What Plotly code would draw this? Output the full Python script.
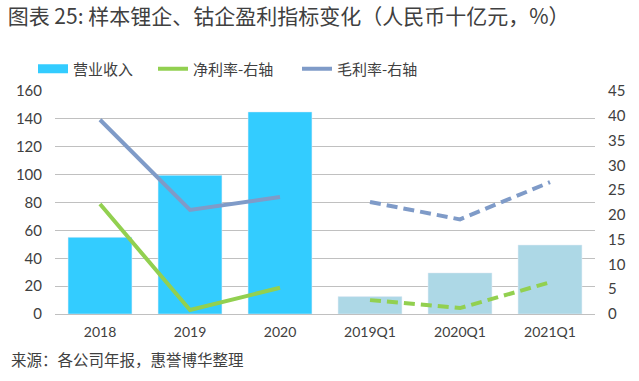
import plotly.graph_objects as go

categories = ["2018", "2019", "2020", "2019Q1", "2020Q1", "2021Q1"]
annual = ["2018", "2019", "2020"]
quarterly = ["2019Q1", "2020Q1", "2021Q1"]
revenue_annual = [55, 99.5, 145]
revenue_quarter = [12.5, 29.5, 49.5]
net_margin_annual = [22.2, 0.8, 5.3]
net_margin_quarter = [2.8, 1.2, 6.4]
gross_margin_annual = [39.2, 21.0, 23.6]
gross_margin_quarter = [22.6, 19.1, 26.6]

C_BAR = "#33CCFF"
C_BAR_Q = "#ADD8E6"
C_NET = "#92D050"
C_GROSS = "#7F9BC8"
TXT = "#404040"

fig = go.Figure()
fig.add_bar(x=annual, y=revenue_annual, marker_color=C_BAR, width=0.71, showlegend=False)
fig.add_bar(x=quarterly, y=revenue_quarter, marker_color=C_BAR_Q, width=0.71, showlegend=False)

fig.add_scatter(x=annual, y=net_margin_annual, yaxis="y2", mode="lines",
                line=dict(color=C_NET, width=4), showlegend=False)
fig.add_scatter(x=annual, y=gross_margin_annual, yaxis="y2", mode="lines",
                line=dict(color=C_GROSS, width=4), showlegend=False)
fig.add_scatter(x=quarterly, y=net_margin_quarter, yaxis="y2", mode="lines",
                line=dict(color=C_NET, width=4, dash="11px,6px"), showlegend=False)
fig.add_scatter(x=quarterly, y=gross_margin_quarter, yaxis="y2", mode="lines",
                line=dict(color=C_GROSS, width=4, dash="11px,6px"), showlegend=False)

# legend entries (each in its own legend for exact placement)
fig.add_scatter(x=[None], y=[None], mode="lines", name="营业收入",
                line=dict(color=C_BAR, width=9), legend="legend")
fig.add_scatter(x=[None], y=[None], mode="lines", name="净利率-右轴",
                line=dict(color=C_NET, width=4), legend="legend2")
fig.add_scatter(x=[None], y=[None], mode="lines", name="毛利率-右轴",
                line=dict(color=C_GROSS, width=4), legend="legend3")


def leg(xpx):
    return dict(orientation="h", xref="container", x=xpx / 639, xanchor="left",
                yref="container", y=1 - 69 / 381, yanchor="middle",
                bgcolor="rgba(0,0,0,0)",
                font=dict(family="Noto Sans CJK SC", size=15, color=TXT))


# paper spans y pixels 20..314 (294 px); plot area 91..314
fig.update_layout(
    width=639, height=381,
    margin=dict(l=55, r=44, t=20, b=67, autoexpand=False),
    paper_bgcolor="white", plot_bgcolor="white",
    font=dict(family="Lato, Noto Sans CJK SC", size=14, color=TXT),
    barmode="overlay",
    title=dict(text="图表 25: 样本锂企、钴企盈利指标变化（人民币十亿元，%）",
               x=0.012, xanchor="left", y=0.955, yanchor="middle",
               font=dict(family="Noto Sans CJK SC", size=21, color=TXT)),
    legend=leg(33),
    legend2=leg(153),
    legend3=leg(297),
    xaxis=dict(categoryorder="array", categoryarray=categories, showgrid=False,
               showline=False, ticks="", automargin=False, ticklabelstandoff=8,
               tickfont=dict(size=14, color=TXT)),
    yaxis=dict(range=[0, 160], dtick=20, domain=[0, 223 / 294], automargin=False,
               showgrid=True, gridcolor="#C0C0C0",
               gridwidth=1, zeroline=True, zerolinecolor="#C0C0C0", zerolinewidth=1,
               tickfont=dict(size=15, color=TXT), ticklabelstandoff=12),
    yaxis2=dict(range=[0, 45], dtick=5, overlaying="y", side="right", showgrid=False,
                automargin=False, zeroline=False, ticklabelstandoff=12,
                tickfont=dict(size=15, color=TXT)),
)

fig.add_annotation(text="来源：各公司年报，惠誉博华整理", xref="paper", yref="paper",
                   x=-0.086, y=-0.153, xanchor="left", yanchor="middle", showarrow=False,
                   font=dict(family="Noto Sans CJK SC", size=15.5, color=TXT))

fig.write_html("out.html", config={"displayModeBar": False},
               post_script="document.body.style.margin='0';")
